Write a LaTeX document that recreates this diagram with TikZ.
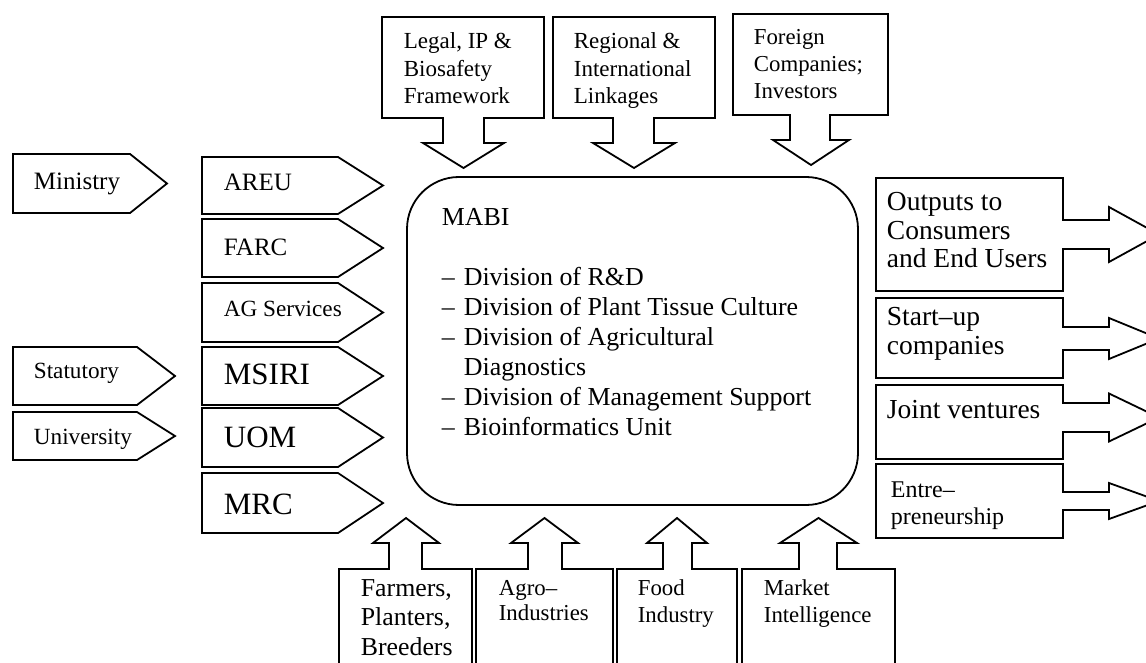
\documentclass[tikz,border=0pt]{standalone}
\usepackage{fontspec}
\setmainfont{Liberation Serif}
\newcommand{\fsz}[2]{\fontsize{#1}{#2}\selectfont}
\newcommand{\boxlines}[1]{\begin{tabular}[t]{@{}l@{}}#1\end{tabular}}

\begin{document}
\begin{tikzpicture}[x=0.5pt,y=-0.5pt,line width=0.9pt,
    lbl/.style={anchor=base west,inner sep=0pt}]
  \useasboundingbox (0,0) rectangle (1146,663);
  \clip (0,0) rectangle (1146,663);
  % centre
  \draw[rounded corners=26pt] (407,177) rectangle (858,505);
  \node[lbl] (mabi) at (441,226) {\fsz{12.95}{15}%
    \begin{tabular}[t]{@{}l@{\hspace{4.5pt}}l@{}}
      \multicolumn{2}{@{}l@{}}{MABI}\\[15pt]
      -- & Division of R\&D\\
      -- & Division of Plant Tissue Culture\\
      -- & Division of Agricultural\\
         & Diagnostics\\
      -- & Division of Management Support\\
      -- & Bioinformatics Unit
    \end{tabular}};
  % left pointers
  \foreach \t/\b/\p/\q in {154/213/130/167, 347/405/137/175, 412/460/137/175}
    \draw (13,\t) -- (\p,\t) -- (\q,{(\t+\b)/2}) -- (\p,\b) -- (13,\b) -- cycle;
  \foreach \t/\b in {157/214, 219/277, 283/342, 347/405, 408/467, 473/533}
    \draw (202,\t) -- (338,\t) -- (383,{(\t+\b)/2}) -- (338,\b) -- (202,\b) -- cycle;
  \node[lbl] (ministry) at (33,190) {\fsz{12.5}{15}Ministry};
  \node[lbl] (statutory) at (33,379) {\fsz{11.6}{14}Statutory};
  \node[lbl] (university) at (33,444) {\fsz{11.6}{14}University};
  \node[lbl] (areu) at (223,190.5) {\fsz{12.5}{15}AREU};
  \node[lbl] (farc) at (223,255.5) {\fsz{12.5}{15}FARC};
  \node[lbl] (agserv) at (223,317) {\fsz{11.6}{14}AG Services};
  \node[lbl] (msiri) at (223,384) {\fsz{15.5}{18}MSIRI};
  \node[lbl] (uom) at (223,447) {\fsz{15.5}{18}UOM};
  \node[lbl] (mrc) at (223,514) {\fsz{15.5}{18}MRC};
  % top inputs
  \foreach \l/\r/\t/\b/\sl/\sr/\hl/\hr in {382/544/17/118/443/484/423/504,
      553/715/17/118/613/654/593/675, 733/888/14/115/790/830/773/849}
    \draw (\l,\t) -- (\r,\t) -- (\r,\b) -- (\sr,\b) -- (\sr,{\b+25}) -- (\hr,{\b+25})
      -- ({(\hl+\hr)/2},{\b+50}) -- (\hl,{\b+25}) -- (\sl,{\b+25}) -- (\sl,\b) -- (\l,\b) -- cycle;
  \node[lbl] (legal) at (403,49) {\fsz{11.5}{13.75}\boxlines{Legal, IP \&\\Biosafety\\Framework}};
  \node[lbl] (regional) at (573,49) {\fsz{11.5}{13.75}\boxlines{Regional \&\\International\\Linkages}};
  \node[lbl] (foreign) at (753,45) {\fsz{11.4}{13.5}\boxlines{Foreign\\Companies;\\Investors}};
  % bottom inputs
  \foreach \l/\r/\sl/\sr/\hl/\hr in {339/472/389/422/373/439, 476/613/528/562/511/578,
      617/737/663/692/647/707, 742/895/799/837/780/857}
    \draw (\l,680) -- (\l,569) -- (\sl,569) -- (\sl,543) -- (\hl,543) -- ({(\hl+\hr)/2},518)
      -- (\hr,543) -- (\sr,543) -- (\sr,569) -- (\r,569) -- (\r,680);
  \node[lbl] (farmers) at (360,596) {\fsz{12.9}{14.75}\boxlines{Farmers,\\Planters,\\Breeders}};
  \node[lbl] (agro) at (498,595) {\fsz{11.4}{12.75}\boxlines{Agro--\\Industries}};
  \node[lbl] (food) at (637,595) {\fsz{11.4}{13.5}\boxlines{Food\\Industry}};
  \node[lbl] (market) at (763,595) {\fsz{11.4}{13.5}\boxlines{Market\\Intelligence}};
  % outputs
  \foreach \t/\b/\c/\s/\h in {178/291/234.5/14.5/27.5, 298/378/338.5/11.5/20.5,
      385/459/417.5/14.5/24, 464/538/501/9/18}
    \draw (876,\t) -- (1063,\t) -- (1063,{\c-\s}) -- (1109,{\c-\s}) -- (1109,{\c-\h})
      -- (1159,\c) -- (1109,{\c+\h}) -- (1109,{\c+\s}) -- (1063,{\c+\s}) -- (1063,\b) -- (876,\b) -- cycle;
  \node[lbl] (outputs) at (886,211) {\fsz{13.75}{14.25}\boxlines{Outputs to\\Consumers\\and End Users}};
  \node[lbl] (startup) at (886,326) {\fsz{13.75}{14.5}\boxlines{Start--up\\companies}};
  \node[lbl] (joint) at (886,418) {\fsz{13.75}{14.5}Joint ventures};
  \node[lbl] (entre) at (890,497) {\fsz{12}{13.5}\boxlines{Entre--\\preneurship}};
\end{tikzpicture}
\end{document}
